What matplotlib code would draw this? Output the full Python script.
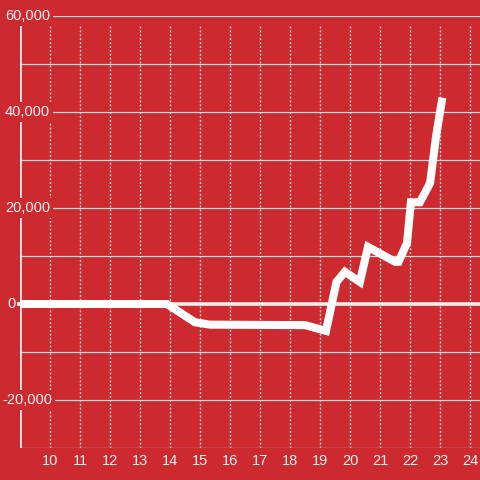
import matplotlib
matplotlib.use("Agg")
import matplotlib.pyplot as plt
from matplotlib.transforms import blended_transform_factory

# ---- data ----
x_vals = [9, 13.9, 14.83, 15.33, 18.5, 19.2, 19.55, 19.83, 20.33, 20.6,
          21.5, 21.62, 21.9, 22.03, 22.33, 22.67, 22.87, 23.08]
y_vals = [0, 0, -3800, -4300, -4400, -5600, 4600, 6700, 4600, 11900,
          8800, 8800, 12700, 21200, 21200, 25200, 35000, 43000]
x_ticks = list(range(10, 25))
y_grid = list(range(-30000, 60001, 10000))
y_label_vals = [60000, 40000, 20000, 0, -20000]
y_label_text = ["60,000", "40,000", "20,000", "0", "-20,000"]

bg = "#cc2a2f"
grid_c = "#d9d9d9"
txt_c = "#f2f2f2"

plt.rcParams['font.family'] = ['Liberation Sans', 'DejaVu Sans']

fig = plt.figure(figsize=(4.8, 4.8), dpi=100, facecolor=bg)
ax = fig.add_axes([20/480, 32/480, 460/480, 432/480], facecolor=bg)
ax.set_xlim(9, 9 + 460/30)
ax.set_ylim(-30000, 60000)

for s in ax.spines.values():
    s.set_visible(False)

# horizontal grid lines
for g in y_grid:
    ax.axhline(g, color=grid_c, lw=0.9, zorder=1)

# vertical dotted grid lines
for xv in x_ticks:
    ax.axvline(xv, ymin=0, ymax=(448-24)/432, color=grid_c, lw=1.0,
               linestyle=(0, (1.4, 1.4)), zorder=1)

# left axis line
ax.axvline(9, ymin=0, ymax=(448-24)/432, color="#eeeeee", lw=2.6, zorder=2)
# zero line
ax.plot([8.9, 9 + 460/30], [0, 0], color="#eeeeee", lw=2.6, zorder=2,
        clip_on=False, solid_capstyle='butt')

# data line
ax.plot(x_vals, y_vals, color="white", lw=5.8, solid_joinstyle='miter',
        solid_capstyle='butt', zorder=3)

# x tick labels
ax.set_xticks(x_ticks)
ax.set_xticklabels([str(v) for v in x_ticks], color=txt_c, fontsize=10.5)
ax.tick_params(axis='x', length=0, pad=4.5)
ax.set_yticks([])

# y labels with background boxes
trans = blended_transform_factory(fig.transFigure, ax.transData)
for v, t in zip(y_label_vals, y_label_text):
    if v < 0:
        left = 2
    elif v == 0:
        left = 7
    else:
        left = 5
    box = None if v == 0 else dict(facecolor=bg, edgecolor='none', pad=2.0)
    ax.text(left/480, v, t, transform=trans, ha='left', va='center',
            fontsize=10.5, color=txt_c, zorder=5, bbox=box)

fig.savefig("out.png", dpi=100, facecolor=bg)
